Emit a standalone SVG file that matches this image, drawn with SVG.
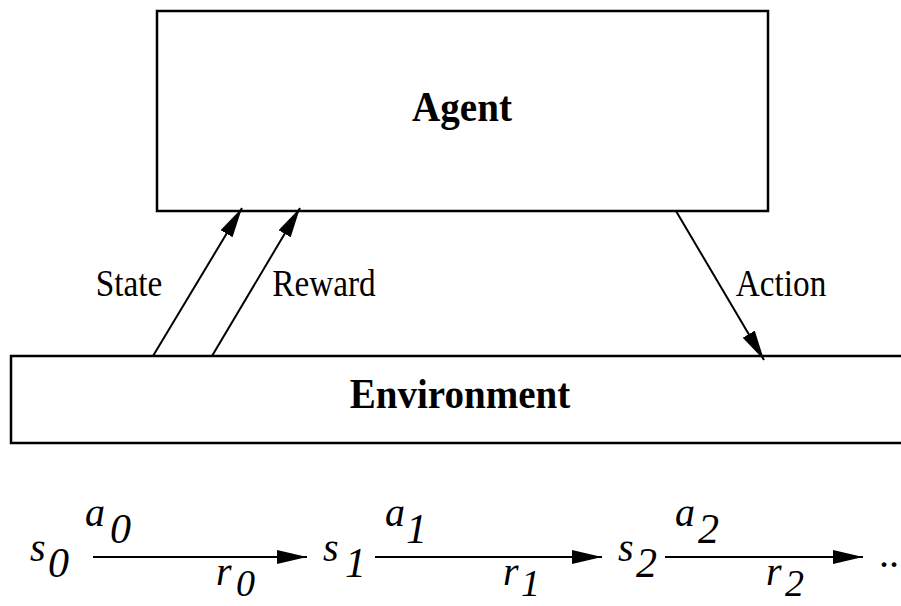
<svg xmlns="http://www.w3.org/2000/svg" width="901" height="606" viewBox="0 0 901 606">
<style>
.box{fill:#fff;stroke:#000;stroke-width:2.5}
.title{font-family:"Liberation Serif",serif;font-weight:bold;font-size:42px;text-anchor:middle;fill:#000}
.lbl{font-family:"Liberation Serif",serif;font-size:37px;text-anchor:middle;fill:#000}
.m{font-family:"Liberation Serif",serif;font-style:italic;font-size:40px;fill:#000}
.d{font-family:"Liberation Serif",serif;font-style:italic;font-size:42px;fill:#000}
.dr{font-family:"Liberation Serif",serif;font-style:italic;font-size:38px;fill:#000}
.conn{stroke:#000;stroke-width:2;fill:none;marker-end:url(#ah)}
</style>
<defs>
<marker id="ah" markerUnits="userSpaceOnUse" markerWidth="30" markerHeight="16" refX="30" refY="7" orient="auto">
<path d="M0,0 L30,7 L0,14 z" fill="#000"/>
</marker>
</defs>
<rect width="901" height="606" fill="#fff"/>
<g id="agent">
<rect class="box" x="157" y="11" width="611" height="200"/>
<text class="title" transform="translate(462,121) scale(0.93,1)">Agent</text>
</g>
<g id="environment">
<rect class="box" x="11" y="356" width="900" height="87"/>
<text class="title" transform="translate(460,408) scale(0.93,1)">Environment</text>
</g>
<g id="connectors">
<line class="conn" x1="153" y1="356" x2="242" y2="208"/>
<line class="conn" x1="212" y1="356" x2="300" y2="208"/>
<line class="conn" x1="676" y1="211" x2="764" y2="360"/>
<line class="conn" x1="93" y1="557" x2="307" y2="557"/>
<line class="conn" x1="375" y1="557" x2="602" y2="557"/>
<line class="conn" x1="665" y1="557" x2="863" y2="557"/>
</g>
<g id="labels">
<text class="lbl" transform="translate(129,296) scale(0.9,1)">State</text>
<text class="lbl" transform="translate(324,296) scale(0.9,1)">Reward</text>
<text class="lbl" transform="translate(781,296) scale(0.9,1)">Action</text>
</g>
<g id="sequence">
<text class="m" x="30" y="561">s</text><text class="d" x="48" y="577">0</text>
<text class="m" x="85" y="526">a</text><text class="d" x="110" y="543">0</text>
<text class="m" x="216" y="585">r</text><text class="dr" x="236" y="596">0</text>
<text class="m" x="323" y="561">s</text><text class="d" x="345" y="577">1</text>
<text class="m" x="385" y="526">a</text><text class="d" x="406" y="543">1</text>
<text class="m" x="503" y="585">r</text><text class="dr" x="521" y="596">1</text>
<text class="m" x="618" y="561">s</text><text class="d" x="636" y="577">2</text>
<text class="m" x="675" y="526">a</text><text class="d" x="698" y="543">2</text>
<text class="m" x="766" y="585">r</text><text class="dr" x="785" y="596">2</text>
<text class="m" x="880" y="567">..</text>
</g>
</svg>
